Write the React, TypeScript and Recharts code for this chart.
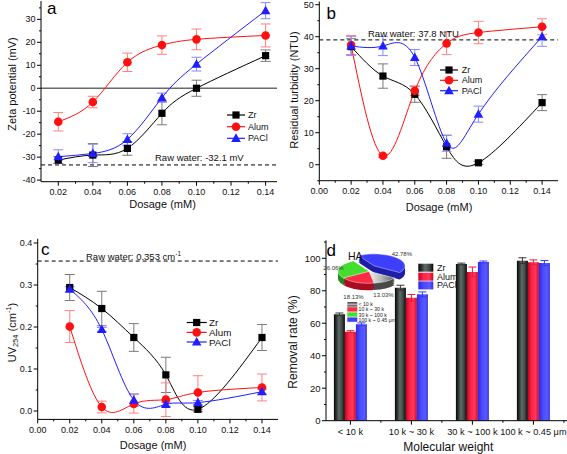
import React from 'react';
import { LineChart, Line, XAxis, YAxis, ReferenceLine, ErrorBar, BarChart, Bar, PieChart, Pie, Cell } from 'recharts';

const FONT = '"Liberation Sans", Arial, Helvetica, sans-serif';

// ---------- shared ----------
const dosages = [0.02, 0.04, 0.06, 0.08, 0.1, 0.14];
const seriesNames = ['Zr', 'Alum', 'PACl'];

// ---------- panel a: zeta potential (mV) ----------
const zetaZr = [-31.3, -29.1, -26.2, -10.9, 0.0, 14.2];
const zetaZrErr = [1.5, 5, 3, 5, 3.5, 2.5];
const zetaAlum = [-14.6, -6.0, 11.3, 18.8, 21.3, 23.0];
const zetaAlumErr = [4, 2.5, 4, 4, 4.5, 5];
const zetaPACl = [-29.8, -28.4, -22.3, -4.1, 10.5, 33.8];
const zetaPAClErr = [3, 4, 2.5, 2, 3, 3.5];
const zetaRaw = -33.4;
const zetaRawLabel = 'Raw water: -32.1 mV';

// ---------- panel b: residual turbidity (NTU) ----------
const turbZr = [36.9, 27.7, 22.0, 5.6, 0.6, 19.4];
const turbZrErr = [2.5, 3.8, 2.5, 3.6, 0.5, 2.5];
const turbAlum = [37.4, 2.8, 23.1, 37.9, 41.3, 43.1];
const turbAlumErr = [3, 0.5, 1.5, 3.5, 3.5, 2.5];
const turbPACl = [37.1, 37.1, 33.5, 6.7, 15.8, 40.0];
const turbPAClErr = [3, 3, 2.5, 2.5, 2.5, 3];
const turbRaw = 39.0;
const turbRawLabel = 'Raw water: 37.8 NTU';

// ---------- panel c: UV254 (cm-1) ----------
const uvZr = [0.294, 0.244, 0.175, 0.086, 0.004, 0.175];
const uvZrErr = [0.031, 0.041, 0.033, 0.042, 0.006, 0.031];
const uvAlum = [0.201, 0.0095, 0.017, 0.027, 0.044, 0.056];
const uvAlumErr = [0.038, 0.014, 0.022, 0.04, 0.04, 0.032];
const uvPACl = [0.29, 0.194, 0.026, 0.016, 0.02, 0.046];
const uvPAClErr = [0.006, 0.005, 0.015, 0.005, 0.005, 0.006];
const uvRaw = 0.357;

// ---------- panel d: removal rate (%) ----------
const mwCategories = ['< 10 k', '10 k ~ 30 k', '30 k ~ 100 k', '100 k ~ 0.45 μm'];
const removalZr = [65.5, 81.9, 96.5, 98.5];
const removalZrErr = [0.8, 1.5, 0.5, 1.8];
const removalAlum = [54.8, 75.7, 91.6, 97.5];
const removalAlumErr = [0.6, 2, 3, 1.5];
const removalPACl = [59.4, 77.8, 97.7, 97.1];
const removalPAClErr = [0.8, 1.5, 0.6, 1.5];
const haShares = [13.03, 18.13, 26.06, 42.78];
const haShareLabels = ['13.03%', '18.13%', '26.06%', '42.78%'];

// ---------- tick labels ----------
const xMajorA = [0.02, 0.04, 0.06, 0.08, 0.1, 0.12, 0.14];
const xMinorA = [0.03, 0.05, 0.07, 0.09, 0.11, 0.13];
const yMajorA = [-40, -30, -20, -10, 0, 10, 20, 30];
const yMinorA = [-35, -25, -15, -5, 5, 15, 25, 35];
const xMajorBC = [0, 0.02, 0.04, 0.06, 0.08, 0.1, 0.12, 0.14];
const xMinorBC = [0.01, 0.03, 0.05, 0.07, 0.09, 0.11, 0.13];
const yMajorB = [0, 10, 20, 30, 40, 50];
const yMinorB = [-5, 5, 15, 25, 35, 45];
const yMajorC = [0, 0.1, 0.2, 0.3, 0.4];
const yMinorC = [0.05, 0.15, 0.25, 0.35];
const xMajorD = [1, 2, 3, 4];
const xMinorD = [1.5, 2.5, 3.5, 4.5];
const yMajorD = [0, 20, 40, 60, 80, 100];
const yMinorD = [10, 30, 50, 70, 90, 110];

const sortNum = (a: number[]) => [...a].sort((p, q) => p - q);

const mkLineData = (zr: number[], zrE: number[], al: number[], alE: number[], pa: number[], paE: number[]) =>
  dosages.map((x, i) => ({ x, zr: zr[i], zrErr: zrE[i], al: al[i], alErr: alE[i], pa: pa[i], paErr: paE[i] }));

const dataA = mkLineData(zetaZr, zetaZrErr, zetaAlum, zetaAlumErr, zetaPACl, zetaPAClErr);
const dataB = mkLineData(turbZr, turbZrErr, turbAlum, turbAlumErr, turbPACl, turbPAClErr);
const dataC = mkLineData(uvZr, uvZrErr, uvAlum, uvAlumErr, uvPACl, uvPAClErr);
const dataD = mwCategories.map((c, i) => ({
  x: i + 1, name: c,
  zr: removalZr[i], zrErr: removalZrErr[i],
  al: removalAlum[i], alErr: removalAlumErr[i],
  pa: removalPACl[i], paErr: removalPAClErr[i],
}));
const pieData = haShares.map((v, i) => ({ name: mwCategories[i], v }));

// ---------- styles ----------
const C_ZR = '#000000';
const C_AL = '#ff1010';
const C_PA = '#1e1eff';
const E_ZR = '#7a7a7a';
const E_AL = '#ff8080';
const E_PA = '#8a8aff';

const isIn = (arr: number[], v: number) => arr.some((m) => Math.abs(m - v) < 1e-6);

const leftTick = (majors: number[], fmt: (v: number) => string, fs: number) => (p: any) => {
  const v = Number(p.payload?.value);
  const major = isIn(majors, v);
  return (
    <g key={`yl${v}`}>
      <line x1={p.x} x2={p.x - (major ? 4 : 2)} y1={p.y} y2={p.y} stroke="#000" strokeWidth={1} />
      {major ? (
        <text x={p.x - 5.5} y={p.y} textAnchor="end" dominantBaseline="central" fontSize={fs} fontFamily={FONT} fill="#111">
          {fmt(v)}
        </text>
      ) : null}
    </g>
  );
};

const bottomTick = (majors: number[], fmt: (v: number) => string, fs: number, off: number) => (p: any) => {
  const v = Number(p.payload?.value);
  const major = isIn(majors, v);
  return (
    <g key={`xb${v}`}>
      <line x1={p.x} x2={p.x} y1={p.y} y2={p.y + (major ? 4 : 2)} stroke="#000" strokeWidth={1} />
      {major ? (
        <text x={p.x} y={p.y + off} textAnchor="middle" dominantBaseline="central" fontSize={fs} fontFamily={FONT} fill="#111">
          {fmt(v)}
        </text>
      ) : null}
    </g>
  );
};

const squareDot = (color: string) => (p: any) => (
  <rect key={`s${p.index}`} x={p.cx - 3.6} y={p.cy - 3.6} width={7.2} height={7.2} fill={color} />
);
const circleDot = (color: string) => (p: any) => (
  <circle key={`c${p.index}`} cx={p.cx} cy={p.cy} r={4.3} fill={color} />
);
const triDot = (color: string) => (p: any) => (
  <polygon key={`t${p.index}`} points={`${p.cx},${p.cy - 5} ${p.cx - 4.8},${p.cy + 3.6} ${p.cx + 4.8},${p.cy + 3.6}`} fill={color} />
);

const f2 = (v: number) => v.toFixed(2);
const f1 = (v: number) => v.toFixed(1);
const f0 = (v: number) => String(Math.round(v));

const lineSeries = (errW: number) => [
  <Line key="zr" type="natural" dataKey="zr" name={seriesNames[0]} stroke={C_ZR} strokeWidth={1} dot={squareDot(C_ZR)} isAnimationActive={false}>
    <ErrorBar dataKey="zrErr" width={errW} stroke={E_ZR} strokeWidth={1} direction="y" />
  </Line>,
  <Line key="al" type="natural" dataKey="al" name={seriesNames[1]} stroke={C_AL} strokeWidth={1} dot={circleDot(C_AL)} isAnimationActive={false}>
    <ErrorBar dataKey="alErr" width={errW} stroke={E_AL} strokeWidth={1} direction="y" />
  </Line>,
  <Line key="pa" type="natural" dataKey="pa" name={seriesNames[2]} stroke={C_PA} strokeWidth={1} dot={triDot(C_PA)} isAnimationActive={false}>
    <ErrorBar dataKey="paErr" width={errW} stroke={E_PA} strokeWidth={1} direction="y" />
  </Line>,
];

function PanelA() {
  return (
    <LineChart width={285} height={225} data={dataA} margin={{ top: 1, right: 8, bottom: 0, left: 0 }}>
      <XAxis dataKey="x" type="number" domain={[0.01, 0.1466]} allowDataOverflow ticks={sortNum([...xMajorA, ...xMinorA])}
        interval={0} tickSize={0} tickMargin={0} tickLine={false} height={43.3}
        axisLine={{ stroke: '#000', strokeWidth: 1 }} tick={bottomTick(xMajorA, f2, 9, 10.5)} />
      <YAxis type="number" domain={[-40.7, 38]} allowDataOverflow ticks={sortNum([...yMajorA, ...yMinorA])}
        interval={0} tickSize={0} tickMargin={0} tickLine={false} width={41}
        axisLine={{ stroke: '#000', strokeWidth: 1 }} tick={leftTick(yMajorA, f0, 9)} />
      <ReferenceLine y={0} stroke="#6a6a6a" strokeWidth={1.6} />
      <ReferenceLine y={zetaRaw} stroke="#000" strokeDasharray="4 3" strokeWidth={1} />
      {lineSeries(5)}
    </LineChart>
  );
}

function PanelB() {
  return (
    <LineChart width={282} height={225} data={dataB} margin={{ top: 1.5, right: 9, bottom: 0, left: 0 }}>
      <XAxis dataKey="x" type="number" domain={[0, 0.15]} allowDataOverflow ticks={sortNum([...xMajorBC, ...xMinorBC])}
        interval={0} tickSize={0} tickMargin={0} tickLine={false} height={44.3}
        axisLine={{ stroke: '#000', strokeWidth: 1 }} tick={bottomTick(xMajorBC, f2, 9, 10.5)} />
      <YAxis type="number" domain={[-5, 51]} allowDataOverflow ticks={sortNum([...yMajorB, ...yMinorB])}
        interval={0} tickSize={0} tickMargin={0} tickLine={false} width={34.3}
        axisLine={{ stroke: '#000', strokeWidth: 1 }} tick={leftTick(yMajorB, f0, 9)} />
      <ReferenceLine y={turbRaw} stroke="#000" strokeDasharray="4 3" strokeWidth={1} />
      {lineSeries(5)}
    </LineChart>
  );
}

function PanelC() {
  return (
    <LineChart width={285} height={229} data={dataC} margin={{ top: 13.8, right: 7, bottom: 0, left: 0 }}>
      <XAxis dataKey="x" type="number" domain={[0, 0.15]} allowDataOverflow ticks={sortNum([...xMajorBC, ...xMinorBC])}
        interval={0} tickSize={0} tickMargin={0} tickLine={false} height={34.6}
        axisLine={{ stroke: '#000', strokeWidth: 1 }} tick={bottomTick(xMajorBC, f2, 9, 10.5)} />
      <YAxis type="number" domain={[-0.02, 0.41]} allowDataOverflow ticks={sortNum([...yMajorC, ...yMinorC])}
        interval={0} tickSize={0} tickMargin={0} tickLine={false} width={37.7}
        axisLine={{ stroke: '#000', strokeWidth: 1 }} tick={leftTick(yMajorC, f1, 9)} />
      <ReferenceLine y={uvRaw} stroke="#000" strokeDasharray="4 3" strokeWidth={1} />
      {lineSeries(5)}
    </LineChart>
  );
}

const barGrad = (id: string, stops: [number, string][]) => (
  <linearGradient id={id} x1="0" y1="0" x2="1" y2="0">
    {stops.map(([o, c], i) => <stop key={i} offset={o} stopColor={c} />)}
  </linearGradient>
);
const gradZr: [number, string][] = [[0, '#050505'], [0.22, '#2c3431'], [0.45, '#5f6b67'], [0.75, '#3d4643'], [1, '#050505']];
const gradAl: [number, string][] = [[0, '#c8001e'], [0.35, '#ff2448'], [0.7, '#ff3a5a'], [1, '#d00424']];
const gradPa: [number, string][] = [[0, '#2a2ae6'], [0.4, '#4c4cff'], [0.75, '#5a5aff'], [1, '#3434ea']];

function PanelD() {
  return (
    <BarChart width={285} height={229} data={dataD} margin={{ top: 15.4, right: 0, bottom: 0, left: 0 }} barGap={0}>
      <defs>
        {barGrad('gZr', gradZr)}
        {barGrad('gAl', gradAl)}
        {barGrad('gPa', gradPa)}
      </defs>
      <XAxis dataKey="x" type="number" domain={[0.6, 4.6]} allowDataOverflow ticks={sortNum([...xMajorD, ...xMinorD])}
        interval={0} tickSize={0} tickMargin={0} tickLine={false} height={33.3}
        axisLine={{ stroke: '#000', strokeWidth: 1 }} tick={bottomTick(xMajorD, (v) => mwCategories[Math.round(v) - 1], 9.2, 11)} />
      <YAxis type="number" domain={[0, 111]} allowDataOverflow ticks={sortNum([...yMajorD, ...yMinorD])}
        interval={0} tickSize={0} tickMargin={0} tickLine={false} width={41}
        axisLine={{ stroke: '#000', strokeWidth: 1 }} tick={leftTick(yMajorD, f0, 9.5)} />
      <Bar dataKey="zr" name={seriesNames[0]} barSize={11} fill="url(#gZr)" isAnimationActive={false}>
        <ErrorBar dataKey="zrErr" width={4} stroke="#333" strokeWidth={1} direction="y" />
      </Bar>
      <Bar dataKey="al" name={seriesNames[1]} barSize={11} fill="url(#gAl)" isAnimationActive={false}>
        <ErrorBar dataKey="alErr" width={4} stroke="#e0203a" strokeWidth={1} direction="y" />
      </Bar>
      <Bar dataKey="pa" name={seriesNames[2]} barSize={11} fill="url(#gPa)" isAnimationActive={false}>
        <ErrorBar dataKey="paErr" width={4} stroke="#3a3aff" strokeWidth={1} direction="y" />
      </Bar>
    </BarChart>
  );
}

// inset 3D-looking pie
const pieTop = ['url(#pieGray)', '#ff2a44', '#45de2e', '#3e3eff'];
const pieSide = ['#4a4a4a', '#a80e22', '#24901a', '#1e1ea8'];
const BLUE = 3;
const sideOffsets = [18, 15, 12, 9, 6, 3];

function HAPie() {
  const cx = 55;
  const cy = 55;
  const r = 31;
  const bx = 5;
  const by = -14;
  const layer = (key: string, dx: number, dy: number, colors: string[], showBlue: boolean, top: boolean) => (
    <Pie key={key} data={pieData} dataKey="v" cx={cx + dx} cy={cy + dy} outerRadius={r} innerRadius={0}
      startAngle={-34} endAngle={-394} isAnimationActive={false} stroke={top ? '#ffffff' : 'none'} strokeWidth={top ? 0.6 : 0}>
      {pieData.map((_, i) => (
        <Cell key={i} fill={(i === BLUE) === showBlue ? colors[i] : 'transparent'} stroke={(i === BLUE) === showBlue && top ? '#ffffff' : 'none'} />
      ))}
    </Pie>
  );
  return (
    <PieChart width={110} height={110} margin={{ top: 0, right: 0, bottom: 0, left: 0 }}>
      <defs>
        <linearGradient id="pieGray" x1="0" y1="0" x2="1" y2="0">
          <stop offset="0" stopColor="#f2f2f2" />
          <stop offset="0.5" stopColor="#b4b4b4" />
          <stop offset="1" stopColor="#5a5a5a" />
        </linearGradient>
      </defs>
      {sideOffsets.map((k) => layer(`bs${k}`, bx, by + k, pieSide, true, false))}
      {layer('bt', bx, by, pieTop, true, true)}
      {sideOffsets.map((k) => layer(`os${k}`, 0, k, pieSide, false, false))}
      {layer('ot', 0, 0, pieTop, false, true)}
    </PieChart>
  );
}

function LegendRow({ x1, x2, y, color, kind, label, tx, fs }: any) {
  const mx = (x1 + x2) / 2;
  let mark: any = null;
  if (kind === 'sq') mark = <rect x={mx - 3.6} y={y - 3.6} width={7.2} height={7.2} fill={color} />;
  if (kind === 'ci') mark = <circle cx={mx} cy={y} r={4.3} fill={color} />;
  if (kind === 'tr') mark = <polygon points={`${mx},${y - 5} ${mx - 4.8},${y + 3.6} ${mx + 4.8},${y + 3.6}`} fill={color} />;
  return (
    <g>
      <line x1={x1} x2={x2} y1={y} y2={y} stroke={color} strokeWidth={1.2} />
      {mark}
      <text x={tx} y={y} dominantBaseline="central" fontSize={fs} fontFamily={FONT} fill="#111">{label}</text>
    </g>
  );
}

function LineLegend({ x1, x2, ys, tx, fs }: any) {
  const kinds = ['sq', 'ci', 'tr'];
  const colors = [C_ZR, C_AL, C_PA];
  return (
    <g>
      {seriesNames.map((n, i) => (
        <LegendRow key={n} x1={x1} x2={x2} y={ys[i]} color={colors[i]} kind={kinds[i]} label={n} tx={tx} fs={fs} />
      ))}
    </g>
  );
}

function Overlay() {
  const t = (x: number, y: number, s: string, fs: number, extra: any = {}) => (
    <text x={x} y={y} fontSize={fs} fontFamily={FONT} fill="#111" dominantBaseline="central" {...extra}>{s}</text>
  );
  const pieLegendY = [304.3, 309.4, 314.5, 319.6];
  const pieSw = ['url(#ovGray)', '#ff2a44', '#45de2e', '#3e3eff'];
  const barLegY = [267.7, 276.7, 285.4];
  const barSw = ['url(#ovZr)', 'url(#ovAl)', 'url(#ovPa)'];
  return (
    <svg width={567} height={454} style={{ position: 'absolute', left: 0, top: 0, pointerEvents: 'none' }}>
      <defs>
        {barGrad('ovZr', gradZr)}
        {barGrad('ovAl', gradAl)}
        {barGrad('ovPa', gradPa)}
        <linearGradient id="ovGray" x1="0" y1="0" x2="0" y2="1">
          <stop offset="0" stopColor="#222" />
          <stop offset="0.5" stopColor="#bbb" />
          <stop offset="1" stopColor="#333" />
        </linearGradient>
      </defs>
      {/* panel letters */}
      <text x={47} y={13.5} fontSize={17} fontFamily={FONT} fill="#000">a</text>
      <text x={326.5} y={19} fontSize={17} fontFamily={FONT} fill="#000">b</text>
      <text x={41} y={254.5} fontSize={17} fontFamily={FONT} fill="#000">c</text>
      <text x={326.5} y={255.7} fontSize={17} fontFamily={FONT} fill="#000">d</text>

      {/* axis titles */}
      {t(162.5, 204, 'Dosage (mM)', 11, { textAnchor: 'middle' })}
      {t(12, 84, 'Zeta potential (mV)', 11, { textAnchor: 'middle', transform: 'rotate(-90 12 84)' })}
      {t(439, 206.7, 'Dosage (mM)', 11, { textAnchor: 'middle' })}
      {t(294.3, 90, 'Residual turbidity (NTU)', 11, { textAnchor: 'middle', transform: 'rotate(-90 294.3 90)' })}
      {t(153, 445, 'Dosage (mM)', 11, { textAnchor: 'middle' })}
      <text x={11.7} y={332.5} fontSize={11} fontFamily={FONT} fill="#111" dominantBaseline="central" textAnchor="middle"
        transform="rotate(-90 11.7 332.5)">
        UV<tspan fontSize={7.5} dy={3}>254</tspan><tspan dy={-3}> (cm</tspan><tspan fontSize={7.5} dy={-4}>-1</tspan><tspan dy={4}>)</tspan>
      </text>
      {t(448.3, 446.7, 'Molecular weight', 12, { textAnchor: 'middle' })}
      {t(293.3, 342, 'Removal rate (%)', 12, { textAnchor: 'middle', transform: 'rotate(-90 293.3 342)' })}

      {/* raw water labels */}
      {t(155, 157, zetaRawLabel, 9.5)}
      {t(368, 33, turbRawLabel, 9.5)}
      <text x={86} y={256.7} fontSize={9.5} fontFamily={FONT} fill="#111" dominantBaseline="central">
        Raw water: 0.353 cm<tspan fontSize={6.5} dy={-3.5}>-1</tspan>
      </text>

      {/* line legends */}
      <LineLegend x1={227} x2={245} ys={[115, 126.7, 138.3]} tx={248} fs={9} />
      <LineLegend x1={440} x2={458} ys={[70, 80.3, 90.7]} tx={461.7} fs={9} />
      <LineLegend x1={186.7} x2={206.7} ys={[322.5, 332.4, 342]} tx={209} fs={9.8} />

      {/* bar legend */}
      {seriesNames.map((n, i) => (
        <g key={n}>
          <rect x={418.3} y={barLegY[i] - 4} width={15} height={8} fill={barSw[i]} />
          {t(437, barLegY[i], n, 9)}
        </g>
      ))}

      {/* pie annotations */}
      <text x={348} y={260} fontSize={10.5} fontFamily={FONT} fill="#111">HA</text>
      {t(391.7, 254.3, haShareLabels[3], 6, { fill: '#333' })}
      {t(323.3, 268.3, haShareLabels[2], 6, { fill: '#333' })}
      {t(343.3, 296.7, haShareLabels[1], 6, { fill: '#333' })}
      {t(373.3, 295, haShareLabels[0], 6, { fill: '#333' })}
      {mwCategories.map((c, i) => (
        <g key={c}>
          <rect x={347.3} y={pieLegendY[i] - 2.2} width={10} height={4.4} fill={pieSw[i]} />
          {t(358.5, pieLegendY[i], c, 5.2, { fill: '#222' })}
        </g>
      ))}
    </svg>
  );
}

export default function App() {
  return (
    <div style={{ position: 'absolute', left: 0, top: 0, width: 567, height: 454, overflow: 'hidden', background: '#fff', fontFamily: FONT }}>
      <div style={{ position: 'absolute', left: 0, top: 0 }}><PanelA /></div>
      <div style={{ position: 'absolute', left: 285, top: 0 }}><PanelB /></div>
      <div style={{ position: 'absolute', left: 0, top: 225 }}><PanelC /></div>
      <div style={{ position: 'absolute', left: 285, top: 225 }}><PanelD /></div>
      <div style={{ position: 'absolute', left: 314, top: 249.7, width: 110, height: 110, transform: 'scaleY(0.387)', transformOrigin: '0 0' }}>
        <HAPie />
      </div>
      <Overlay />
    </div>
  );
}
